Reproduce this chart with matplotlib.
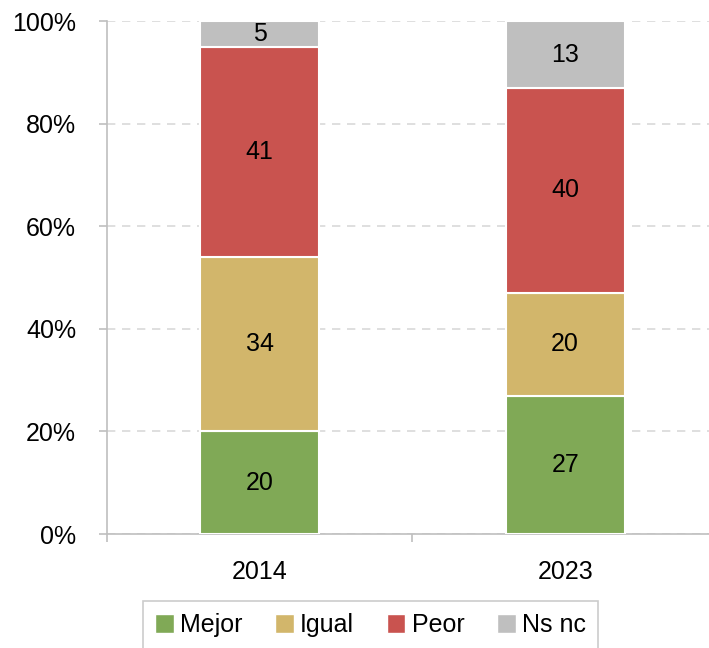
import numpy as np
import matplotlib.pyplot as plt
from matplotlib.patches import Patch

plt.rcParams['font.family'] = ['Liberation Sans', 'DejaVu Sans']

years = ['2014', '2023']
categories = ['Mejor', 'Igual', 'Peor', 'Ns nc']
values = {
    'Mejor': [20, 27],
    'Igual': [34, 20],
    'Peor': [41, 40],
    'Ns nc': [5, 13],
}
colors = ['#80a956', '#d2b66b', '#c9534f', '#bfbfbf']

fig = plt.figure(figsize=(7.09, 6.48), dpi=100)
ax = fig.add_axes([106.7 / 709, 114 / 648, (718 - 106.7) / 709, (534 - 21.3) / 648])

x = np.arange(len(years))
totals = np.sum([values[c] for c in categories], axis=0)
bottom = np.zeros(len(years))
for cat, col in zip(categories, colors):
    v = np.array(values[cat], dtype=float)
    frac = v / totals
    ax.bar(x, frac, width=0.39, bottom=bottom, color=col,
           edgecolor='white', linewidth=1.5, zorder=3)
    for xi, b, f, lab in zip(x, bottom, frac, values[cat]):
        ax.text(xi, b + f / 2, str(lab), ha='center', va='center',
                fontsize=18, color='black', zorder=4)
    bottom += frac

ax.set_xlim(-0.5, 1.5)
ax.set_ylim(0, 1)
ax.set_yticks(np.arange(0, 1.01, 0.2))
ax.set_yticklabels([f'{int(round(t * 100))}%' for t in np.arange(0, 1.01, 0.2)],
                   fontsize=18)
ax.yaxis.grid(True, color='#d9d9d9', linestyle=(0, (5, 4)), linewidth=1.2, zorder=0)

ax.set_xticks([-0.5, 0.5, 1.5])
ax.set_xticklabels([])
ax.set_xticks(x, minor=True)
ax.set_xticklabels(years, minor=True, fontsize=18)
ax.tick_params(axis='x', which='minor', length=0, pad=19)
ax.tick_params(axis='x', which='major', length=6, width=1.2, color='#bfbfbf')
ax.tick_params(axis='y', length=6, width=1.2, color='#bfbfbf', pad=16)

for s in ['top', 'right']:
    ax.spines[s].set_visible(False)
for s in ['left', 'bottom']:
    ax.spines[s].set_color('#bfbfbf')
    ax.spines[s].set_linewidth(1.2)

handles = [Patch(facecolor=c, edgecolor='white') for c in colors]
leg = fig.legend(handles, categories, loc='upper center',
                 bbox_to_anchor=(370.5 / 709, 1 - 600.7 / 648), ncol=4,
                 fontsize=18, frameon=True, fancybox=False, borderaxespad=0,
                 handlelength=0.75, handleheight=0.75, handletextpad=0.25,
                 columnspacing=1.3, borderpad=0.5)
leg.get_frame().set_edgecolor('#bfbfbf')
leg.get_frame().set_linewidth(1.2)

fig.savefig('out.png', dpi=100)
